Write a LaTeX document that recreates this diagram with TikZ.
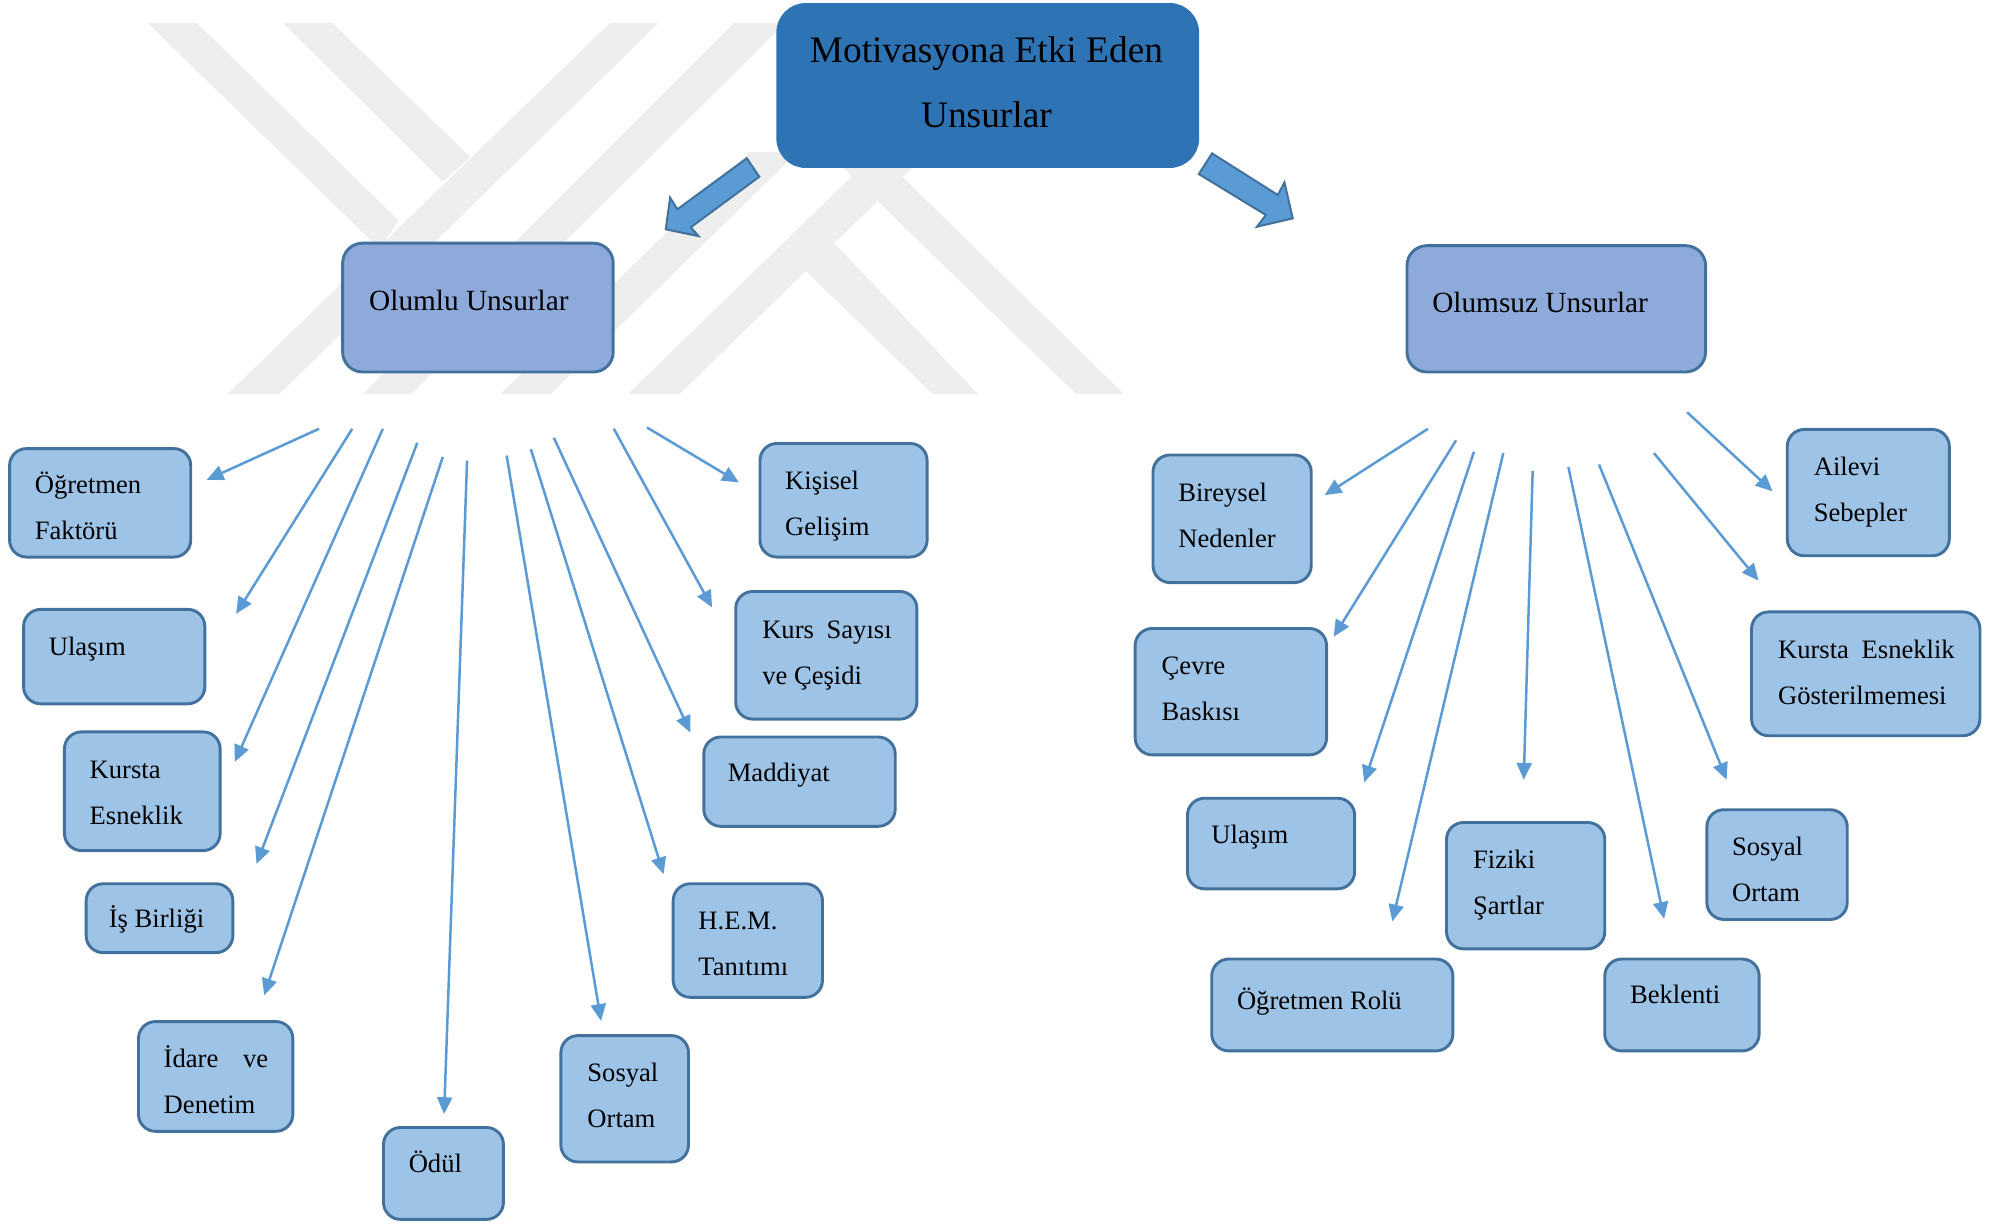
\documentclass[tikz,border=0pt]{standalone}
\usepackage{fontspec}
\setmainfont{Liberation Serif}
\usetikzlibrary{arrows.meta}
\definecolor{wm}{HTML}{EEEEEE}
\definecolor{rootfill}{HTML}{2E74B5}
\definecolor{midfill}{HTML}{8EAADB}
\definecolor{leaffill}{HTML}{9DC3E6}
\definecolor{edgeblue}{HTML}{41719C}
\definecolor{arrowblue}{HTML}{5B9BD5}
\tikzset{
  x=0.638pt,y=-0.638pt,
  anybox/.style={draw=edgeblue,line width=1.45pt,rounded corners=8.5pt,inner sep=0pt,outer sep=0pt},
  leafbox/.style={anybox,fill=leaffill},
  midbox/.style={anybox,fill=midfill,rounded corners=10pt},
  rootbox/.style={anybox,fill=rootfill,draw=rootfill,rounded corners=14pt},
  leaftext/.style={anchor=west,inner sep=0pt,align=left,font=\fontsize{13.3}{23}\selectfont},
  midtext/.style={anchor=west,inner sep=0pt,font=\fontsize{14.65}{23}\selectfont},
  roottext/.style={anchor=center,inner sep=0pt,align=center,font=\fontsize{18.7}{32.5}\selectfont},
  thin arrow/.style={draw=arrowblue,line width=1.25pt,-{Triangle[length=8.4pt,width=7.5pt,fill=arrowblue]}},
  block arrow/.style={fill=arrowblue,draw=edgeblue,line width=1pt,line join=miter},
  band/.style={fill=wm,draw=none}
}
\newcommand\boxat[8]{%
  \node[#1,minimum width={(#4-#2-1)*0.638pt},minimum height={(#5-#3-1)*0.638pt}] (#6) at ({(#2+#4)/2},{(#3+#5)/2}) {};
  \node[#7] (#6-t) at #8;}
\newcommand\leafnode[8]{\boxat{leafbox}{#2}{#3}{#4}{#5}{#1}{leaftext}{(#6,#7+0.5) {#8}}}
\newcommand\arrowline[5]{%
  \coordinate (#1-s) at (#2,#3);
  \coordinate (#1-e) at (#4,#5);
  \draw[thin arrow] (#1-s) -- (#1-e);}
\newcommand\sline[1]{\strut #1}
\begin{document}
\begin{tikzpicture}
\useasboundingbox (0,0) rectangle (1568,959);
% watermark
\begin{scope}[shift={(0,-0.8)},xscale=.6248,yscale=.261]
  \fill[band] (765,72)--(826,72)--(350,1187)--(285,1187)--cycle;
  \fill[band] (185,72)--(247,72)--(500,665)--(476,750)--cycle;
  \fill[band] (355,72)--(417,72)--(590,475)--(555,548)--cycle;
  \fill[band] (920,72)--(985,72)--(515,1187)--(455,1187)--cycle;
  \fill[band] (627,1187)--(690,1187)--(1000,460)--(940,460)--cycle;
  \fill[band] (1350,1187)--(1410,1187)--(1109,480)--(1046,480)--cycle;
  \fill[band] (787,1187)--(852,1187)--(1155,480)--(1091,480)--cycle;
  \fill[band] (1170,1187)--(1227,1187)--(1045,730)--(1010,815)--cycle;
\end{scope}
% block arrows
\draw[block arrow] (585.2,124)--(595,138.5)--(541.3,178.1)--(547.3,185)--(521.7,179.7)--(525.1,154.9)--(530.8,164)--cycle;
\draw[block arrow] (949.8,120.2)--(939.4,136.4)--(992,168.5)--(984.9,177.7)--(1013,171.1)--(1006.5,142.9)--(1001.3,152.8)--cycle;
% root and second level
\boxat{rootbox}{609}{3}{939}{131}{root}{roottext}{(773,64) {\strut Motivasyona Etki Eden\\\strut Unsurlar}}
\boxat{midbox}{268}{190}{481}{292}{olumlu}{midtext}{(289,236) {\strut Olumlu Unsurlar}}
\boxat{midbox}{1102}{192}{1337}{292}{olumsuz}{midtext}{(1122,238) {\strut Olumsuz Unsurlar}}
% left leaves
\leafnode{l1}{7}{351}{150}{437}{27}{397}{\sline{Öğretmen}\\\sline{Faktörü}}
\leafnode{l2}{18}{477}{161}{552}{38}{506}{\sline{Ulaşım}}
\leafnode{l3}{50}{573}{173}{667}{70}{620}{\sline{Kursta}\\\sline{Esneklik}}
\leafnode{l4}{67}{692}{183}{747}{85}{719}{\sline{İş Birliği}}
\leafnode{l5}{108}{800}{230}{887}{128}{847}{\sline{İdare\hspace{9pt} ve}\\\sline{Denetim}}
\leafnode{l6}{300}{883}{395}{956}{320}{911}{\sline{Ödül}}
\leafnode{l7}{439}{811}{540}{911}{460}{858}{\sline{Sosyal}\\\sline{Ortam}}
\leafnode{l8}{527}{692}{645}{782}{547}{739}{\sline{H.E.M.}\\\sline{Tanıtımı}}
\leafnode{l9}{551}{577}{702}{648}{570}{605}{\sline{Maddiyat}}
\leafnode{l10}{576}{463}{719}{564}{597}{511}{\sline{Kurs\hspace{3pt} Sayısı}\\\sline{ve Çeşidi}}
\leafnode{l11}{595}{347}{727}{437}{615}{394}{\sline{Kişisel}\\\sline{Gelişim}}
% right leaves
\leafnode{r1}{903}{356}{1028}{457}{923}{403}{\sline{Bireysel}\\\sline{Nedenler}}
\leafnode{r2}{889}{492}{1040}{592}{910}{539}{\sline{Çevre}\\\sline{Baskısı}}
\leafnode{r3}{930}{625}{1062}{697}{949}{653}{\sline{Ulaşım}}
\leafnode{r4}{1133}{644}{1258}{744}{1154}{691}{\sline{Fiziki}\\\sline{Şartlar}}
\leafnode{r5}{949}{751}{1139}{824}{969}{783}{\sline{Öğretmen Rolü}}
\leafnode{r6}{1257}{751}{1379}{824}{1277}{779}{\sline{Beklenti}}
\leafnode{r7}{1337}{634}{1448}{721}{1357}{681}{\sline{Sosyal}\\\sline{Ortam}}
\leafnode{r8}{1372}{479}{1552}{577}{1393}{526}{\sline{Kursta\hspace{3pt} Esneklik}\\\sline{Gösterilmemesi}}
\leafnode{r9}{1400}{336}{1528}{436}{1421}{383}{\sline{Ailevi}\\\sline{Sebepler}}
% left arrows
\arrowline{a1}{250}{336}{162}{376}
\arrowline{a2}{276}{336}{185}{481}
\arrowline{a3}{300}{336}{184}{597}
\arrowline{a4}{327}{347}{201}{677}
\arrowline{a5}{347}{358}{207}{780}
\arrowline{a6}{366}{361}{348}{873}
\arrowline{a7}{397}{357}{471}{800}
\arrowline{a8}{416}{352}{520}{685}
\arrowline{a9}{434}{343}{541}{574}
\arrowline{a10}{481}{336}{558}{476}
\arrowline{a11}{507}{335}{579}{378}
% right arrows
\arrowline{b1}{1119}{336}{1038}{388}
\arrowline{b2}{1141}{345}{1045}{499}
\arrowline{b3}{1155}{354}{1069}{613}
\arrowline{b4}{1178}{355}{1091}{722}
\arrowline{b5}{1201}{369}{1194}{611}
\arrowline{b6}{1229}{366}{1304}{720}
\arrowline{b7}{1253}{364}{1353}{611}
\arrowline{b8}{1296}{355}{1378}{455}
\arrowline{b9}{1322}{323}{1389}{385}
\end{tikzpicture}
\end{document}
